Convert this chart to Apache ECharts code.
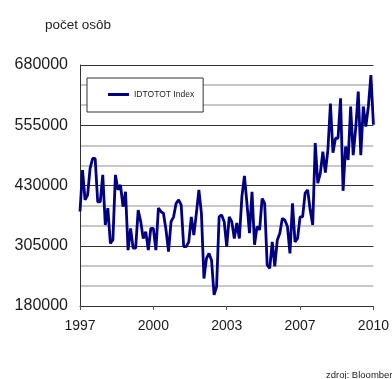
<!DOCTYPE html>
<html>
<head>
<meta charset="utf-8">
<script src="https://cdn.jsdelivr.net/npm/echarts@6/dist/echarts.min.js"></script>
<style>
  html, body { margin: 0; padding: 0; background: #fff; overflow: hidden; }
  #chart { width: 392px; height: 379px; }
</style>
</head>
<body>
<div id="chart"></div>
<script>
// Monthly-ish readings of the unemployment count (persons), 1997 – 2010
const seriesName = 'IDTOTOT Index';
const values = [
  376000, 462000, 400000, 410000, 466000, 486000, 486000, 396000, 396000, 452000,
  348000, 383000, 310000, 317000, 452000, 421000, 431000, 386000, 417000, 296000,
  341000, 300000, 300000, 379000, 355000, 320000, 334000, 296000, 341000, 341000,
  296000, 383000, 376000, 372000, 338000, 293000, 355000, 365000, 393000, 400000,
  390000, 303000, 303000, 313000, 365000, 327000, 372000, 421000, 372000, 237000,
  279000, 289000, 275000, 203000, 220000, 365000, 369000, 355000, 303000, 365000,
  355000, 320000, 352000, 320000, 407000, 450000, 393000, 331000, 417000, 307000,
  345000, 338000, 403000, 393000, 265000, 258000, 313000, 262000, 317000, 331000,
  362000, 358000, 345000, 289000, 393000, 313000, 320000, 365000, 365000, 414000,
  421000, 379000, 348000, 518000, 435000, 455000, 500000, 457000, 504000, 600000,
  498000, 528000, 528000, 611000, 419000, 511000, 483000, 594000, 493000, 549000,
  625000, 493000, 594000, 552000, 594000, 659000, 556000
];
const categories = values.map((_, i) => String(i));
const tickLabels = ['1997', '2000', '2003', '2007', '2010'];
const yTicks = { min: 180000, max: 680000, step: 125000 };

const labelStep = (categories.length - 1) / (tickLabels.length - 1);
const font = '"Liberation Sans", Arial, sans-serif';

const chart = echarts.init(document.getElementById('chart'), null, { renderer: 'canvas' });
chart.setOption({
  animation: false,
  backgroundColor: '#ffffff',
  title: [
    {
      text: 'počet osôb',
      left: 45, top: 18,
      padding: 0,
      textStyle: { fontFamily: font, fontSize: 13.5, fontWeight: 'normal', color: '#222' }
    },
    {
      text: 'zdroj: Bloomberg',
      left: 326, top: 370,
      padding: 0,
      textStyle: { fontFamily: font, fontSize: 9.5, fontWeight: 'normal', color: '#222' }
    }
  ],
  legend: {
    data: [{ name: seriesName, icon: 'rect' }],
    left: 87, top: 78,
    orient: 'horizontal',
    itemWidth: 21, itemHeight: 3,
    padding: [12, 9, 13, 21],
    borderColor: '#333', borderWidth: 1,
    backgroundColor: '#fff',
    textStyle: { fontFamily: font, fontSize: 8.5, color: '#222' }
  },
  grid: { left: 80, right: 17, top: 65, bottom: 73, containLabel: false },
  xAxis: {
    type: 'category',
    data: categories,
    boundaryGap: false,
    axisLine: { show: true, lineStyle: { color: '#333', width: 1 } },
    axisTick: { show: true, interval: labelStep - 1, length: 4, lineStyle: { color: '#555' } },
    axisLabel: {
      interval: labelStep - 1,
      margin: 13,
      fontFamily: font, fontSize: 14, color: '#1a1a1a',
      formatter: (v, idx) => tickLabels[Math.round(idx / labelStep)]
    },
    splitLine: { show: false }
  },
  yAxis: {
    type: 'value',
    min: yTicks.min, max: yTicks.max, interval: yTicks.step,
    axisLine: { show: true, lineStyle: { color: '#333', width: 1 } },
    axisTick: { show: false },
    axisLabel: {
      margin: 12, fontFamily: font, fontSize: 16, color: '#1a1a1a',
      formatter: (v) => String(v)
    },
    splitLine: { show: true, lineStyle: { color: '#333', width: 1 } },
    minorTick: { show: false, splitNumber: 3 },
    minorSplitLine: { show: true, lineStyle: { color: '#c8c8c8', width: 2 } }
  },
  series: [{
    name: seriesName,
    type: 'line',
    data: values,
    showSymbol: false,
    symbol: 'none',
    lineStyle: { color: '#000080', width: 2.8 },
    itemStyle: { color: '#000080' }
  }]
});
</script>
</body>
</html>
